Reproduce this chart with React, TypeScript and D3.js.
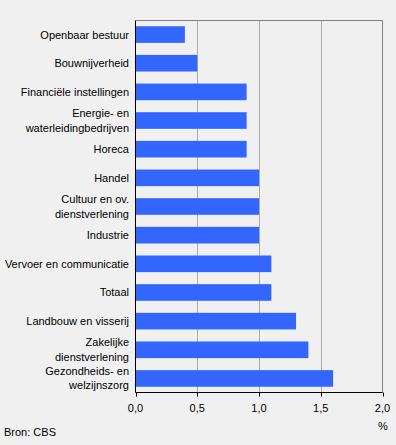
import { useEffect, useRef } from "react";
import * as d3 from "d3";

// categories (multi-line labels split with "|")
const categories = [
  "Openbaar bestuur",
  "Bouwnijverheid",
  "Financiële instellingen",
  "Energie- en|waterleidingbedrijven",
  "Horeca",
  "Handel",
  "Cultuur en ov.|dienstverlening",
  "Industrie",
  "Vervoer en communicatie",
  "Totaal",
  "Landbouw en visserij",
  "Zakelijke|dienstverlening",
  "Gezondheids- en|welzijnszorg",
];
const values = [0.4, 0.5, 0.9, 0.9, 0.9, 1.0, 1.0, 1.0, 1.1, 1.1, 1.3, 1.4, 1.6];
const ticks = [0, 0.5, 1.0, 1.5, 2.0];

const W = 396;
const H = 445;

const App = () => {
  const svgRef = useRef<SVGSVGElement>(null);

  useEffect(() => {
    const svg = d3.select(svgRef.current);
    svg.selectAll("*").remove();

    const left = 135.5;
    const right = 382.5;
    const top = 20.5;
    const bottom = 392.5;
    const font = "Arial, 'Liberation Sans', sans-serif";
    const fs = 11;

    const x = d3.scaleLinear().domain([0, 2]).range([left, right]);
    const y = d3
      .scaleBand()
      .domain(categories)
      .range([top, bottom])
      .paddingInner(0.42)
      .paddingOuter(0.2);

    svg.append("rect").attr("width", W).attr("height", H).attr("fill", "#f0f0f0");

    // gridlines
    svg
      .selectAll("line.grid")
      .data(ticks.slice(1, -1))
      .join("line")
      .attr("class", "grid")
      .attr("x1", (d) => Math.round(x(d)) + 0.5)
      .attr("x2", (d) => Math.round(x(d)) + 0.5)
      .attr("y1", top)
      .attr("y2", bottom)
      .attr("stroke", "#aaaaaa");

    // top + right border
    svg
      .append("path")
      .attr("d", `M${left},${top}H${right}V${bottom}`)
      .attr("fill", "none")
      .attr("stroke", "#808080");

    // bars
    svg
      .selectAll("rect.bar")
      .data(categories)
      .join("rect")
      .attr("class", "bar")
      .attr("x", left)
      .attr("y", (d) => y(d)!)
      .attr("width", (d, i) => x(values[i]) - left)
      .attr("height", y.bandwidth())
      .attr("fill", "#3366ff");

    // axes lines
    svg
      .append("path")
      .attr("d", `M${left},${top}V${bottom}H${right}`)
      .attr("fill", "none")
      .attr("stroke", "#000");

    svg
      .selectAll("line.tick")
      .data(ticks)
      .join("line")
      .attr("class", "tick")
      .attr("x1", (d) => Math.round(x(d)) + 0.5)
      .attr("x2", (d) => Math.round(x(d)) + 0.5)
      .attr("y1", bottom)
      .attr("y2", bottom + 4)
      .attr("stroke", "#000");

    svg
      .selectAll("text.tl")
      .data(ticks)
      .join("text")
      .attr("class", "tl")
      .attr("x", (d) => x(d))
      .attr("y", 412)
      .attr("text-anchor", "middle")
      .attr("font-family", font)
      .attr("font-size", fs)
      .text((d) => d3.format(".1f")(d).replace(".", ","));

    // category labels
    const labels = svg
      .selectAll("text.cat")
      .data(categories)
      .join("text")
      .attr("class", "cat")
      .attr("text-anchor", "end")
      .attr("font-family", font)
      .attr("font-size", fs)
      .attr("fill", "#000");

    labels.each(function (d) {
      const lines = d.split("|");
      const cy = y(d)! + y.bandwidth() / 2;
      const sel = d3.select(this);
      lines.forEach((ln, i) => {
        const off = lines.length === 1 ? 0 : i === 0 ? -7.5 : 7;
        sel
          .append("tspan")
          .attr("x", 129)
          .attr("y", cy + off + 4)
          .text(ln);
      });
    });

    svg
      .append("text")
      .attr("x", 383)
      .attr("y", 430)
      .attr("text-anchor", "middle")
      .attr("font-family", font)
      .attr("font-size", fs)
      .text("%");

    svg
      .append("text")
      .attr("x", 4)
      .attr("y", 436)
      .attr("font-family", font)
      .attr("font-size", fs)
      .text("Bron: CBS");
  }, []);

  return (
    <div style={{ position: "fixed", left: 0, top: 0 }}>
      <svg ref={svgRef} width={W} height={H} style={{ display: "block" }}></svg>
    </div>
  );
};

export default App;
